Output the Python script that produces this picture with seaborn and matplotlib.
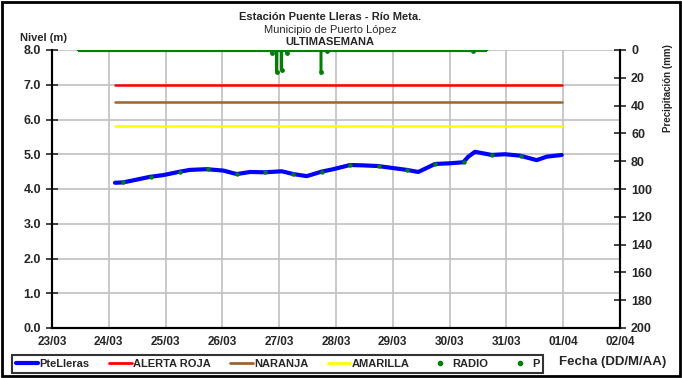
import numpy as np
import pandas as pd
import seaborn as sns
import matplotlib.dates as mdates
from matplotlib import pyplot as plt
from matplotlib.lines import Line2D
from matplotlib.patches import Rectangle

# level readings (days after 23/03 00:00, metres)
level_days = [1.109, 1.255, 1.725, 1.960, 2.254, 2.430, 2.724, 3.016, 3.252, 3.489,
              3.750, 4.044, 4.248, 4.484, 4.748, 4.952, 5.246, 5.481, 5.745, 5.790,
              5.833, 6.245, 6.449, 6.743, 7.007, 7.241, 7.329, 7.447, 7.741, 7.975,
              8.239, 8.533, 8.709, 8.974]
level_vals = [4.18, 4.19, 4.35, 4.40, 4.50, 4.55, 4.57, 4.53, 4.43, 4.49,
              4.48, 4.51, 4.43, 4.37, 4.50, 4.57, 4.69, 4.68, 4.66, np.nan,
              4.64, 4.55, 4.49, 4.72, 4.74, 4.77, 4.93, 5.07, 4.98, 5.00,
              4.96, 4.83, 4.93, 4.98]

# radio readings every 12 h
radio_days = [1.25, 1.75, 2.25, 2.75, 3.25, 3.75, 4.25, 4.75, 5.25, 5.75,
              6.25, 6.75, 7.25, 7.75, 8.25]
radio_vals = [4.19, 4.35, 4.50, 4.57, 4.43, 4.48, 4.43, 4.50, 4.69, 4.66,
              4.55, 4.72, 4.77, 4.98, 4.96]

# alert levels
alert_span = [1.109, 8.974]
roja, naranja, amarilla = 7.0, 6.5, 5.8

# precipitation (mm)
p_days = [0.458, 3.85, 3.868, 3.875, 3.951, 3.956, 3.961, 4.039, 4.044, 4.049,
          4.125, 4.132, 4.15, 4.731, 4.736, 4.741, 4.83, 4.836, 4.845,
          7.40, 7.412, 7.42, 7.66]
p_vals = [0, 0, 2, 0, 0, 15.6, 0, 0, 14.4, 0,
          0, 2, 0, 0, 16, 0, 0, 1, 0,
          0, 1, 0, 0]

base = pd.Timestamp('2011-03-23')


def to_dates(days):
    return base + pd.to_timedelta(days, unit='D')


df_level = pd.DataFrame({'fecha': to_dates(level_days), 'nivel': level_vals})
df_radio = pd.DataFrame({'fecha': to_dates(radio_days), 'nivel': radio_vals})
df_p = pd.DataFrame({'fecha': to_dates(p_days), 'p': p_vals})

sns.set_style('white')
plt.rcParams['font.family'] = ['Liberation Sans', 'DejaVu Sans']

fig = plt.figure(figsize=(6.82, 3.78), dpi=100)
ax = fig.add_axes([52 / 682, 1 - 328 / 378, 568 / 682, 278 / 378])
ax2 = ax.twinx()

green = '#008000'
for val, col in [(roja, '#ff0000'), (naranja, '#996633'), (amarilla, '#ffff00')]:
    ax.plot(to_dates(alert_span), [val, val], color=col, lw=1.8, zorder=3)

sns.lineplot(data=df_level, x='fecha', y='nivel', ax=ax, color='#0000ff',
             lw=3, zorder=4, estimator=None, sort=False)
sns.scatterplot(data=df_radio, x='fecha', y='nivel', ax=ax, color=green,
                s=10, linewidth=0, zorder=5)

sns.lineplot(data=df_p, x='fecha', y='p', ax=ax2, color=green, lw=1.8,
             estimator=None, sort=False)
spikes = df_p[df_p['p'] > 0]
sns.scatterplot(data=spikes, x='fecha', y='p', ax=ax2, color=green, s=12, linewidth=0)
ax2.plot(to_dates([p_days[0], p_days[-1]]), [0, 0], color=green, lw=3,
         solid_capstyle='butt')

ax.set_xlim(base, base + pd.Timedelta(days=10))
ax.set_ylim(0, 8)
ax.set_yticks(np.arange(0, 8.1, 1))
ax.yaxis.set_major_formatter(plt.FormatStrFormatter('%.1f'))
ax.xaxis.set_major_locator(mdates.DayLocator())
ax.xaxis.set_major_formatter(mdates.DateFormatter('%d/%m'))
ax2.set_ylim(200, 0)
ax2.set_yticks(np.arange(0, 201, 20))

ax.grid(True, color='#c0c0c0', lw=1.2)
ax.set_axisbelow(True)
for a in (ax, ax2):
    a.set_xlabel('')
    a.set_ylabel('')
    a.spines['top'].set_visible(False)
    for s in ('left', 'right', 'bottom'):
        a.spines[s].set_linewidth(1.5)
        a.spines[s].set_color('black')
ax.tick_params(axis='y', direction='inout', length=8, width=1.2, labelsize=9, pad=4)
ax.tick_params(axis='x', length=0, labelsize=8.5, pad=6)
ax2.tick_params(axis='y', direction='inout', length=8, width=1.2, labelsize=9, pad=4)
for lab in ax.get_xticklabels() + ax.get_yticklabels() + ax2.get_yticklabels():
    lab.set_fontweight('bold')

fig.text(0.484, 0.955, 'Estación Puente Lleras - Río Meta.', ha='center', va='center',
         fontsize=8, fontweight='bold')
fig.text(0.484, 0.921, 'Municipio de Puerto López', ha='center', va='center', fontsize=8)
fig.text(0.484, 0.889, 'ULTIMASEMANA', ha='center', va='center', fontsize=8, fontweight='bold')
fig.text(0.029, 0.899, 'Nivel (m)', ha='left', va='center', fontsize=8, fontweight='bold')
fig.text(613 / 682, 1 - 362 / 378, 'Fecha (DD/M/AA)', ha='center', va='center',
         fontsize=9.5, fontweight='bold')
fig.text(668 / 682, 1 - 44 / 378, 'Precipitación (mm)', ha='center', va='top', rotation=90,
         fontsize=7, fontweight='bold')

handles = [
    Line2D([], [], color='#0000ff', lw=3),
    Line2D([], [], color='#ff0000', lw=2),
    Line2D([], [], color='#996633', lw=2),
    Line2D([], [], color='#ffff00', lw=2),
    Line2D([], [], color=green, lw=0, marker='o', markersize=3),
    Line2D([], [], color=green, lw=0, marker='o', markersize=3),
]
labels = ['PteLleras', 'ALERTA ROJA', 'NARANJA', 'AMARILLA', 'RADIO', 'P']
leg = fig.legend(handles, labels, loc='center left', bbox_to_anchor=(12 / 682, 1 - 364 / 378),
                 ncol=6, frameon=True, fancybox=False, handlelength=2.0,
                 handletextpad=0.1, columnspacing=1.8, borderpad=0.35, borderaxespad=0,
                 prop={'weight': 'bold', 'size': 8})
leg.get_frame().set_edgecolor('black')
leg.get_frame().set_linewidth(1.5)

fig.patches.append(Rectangle((0.003, 0.004), 0.994, 0.991, transform=fig.transFigure,
                             fill=False, edgecolor='black', lw=2))

fig.savefig('out.png', dpi=100)
